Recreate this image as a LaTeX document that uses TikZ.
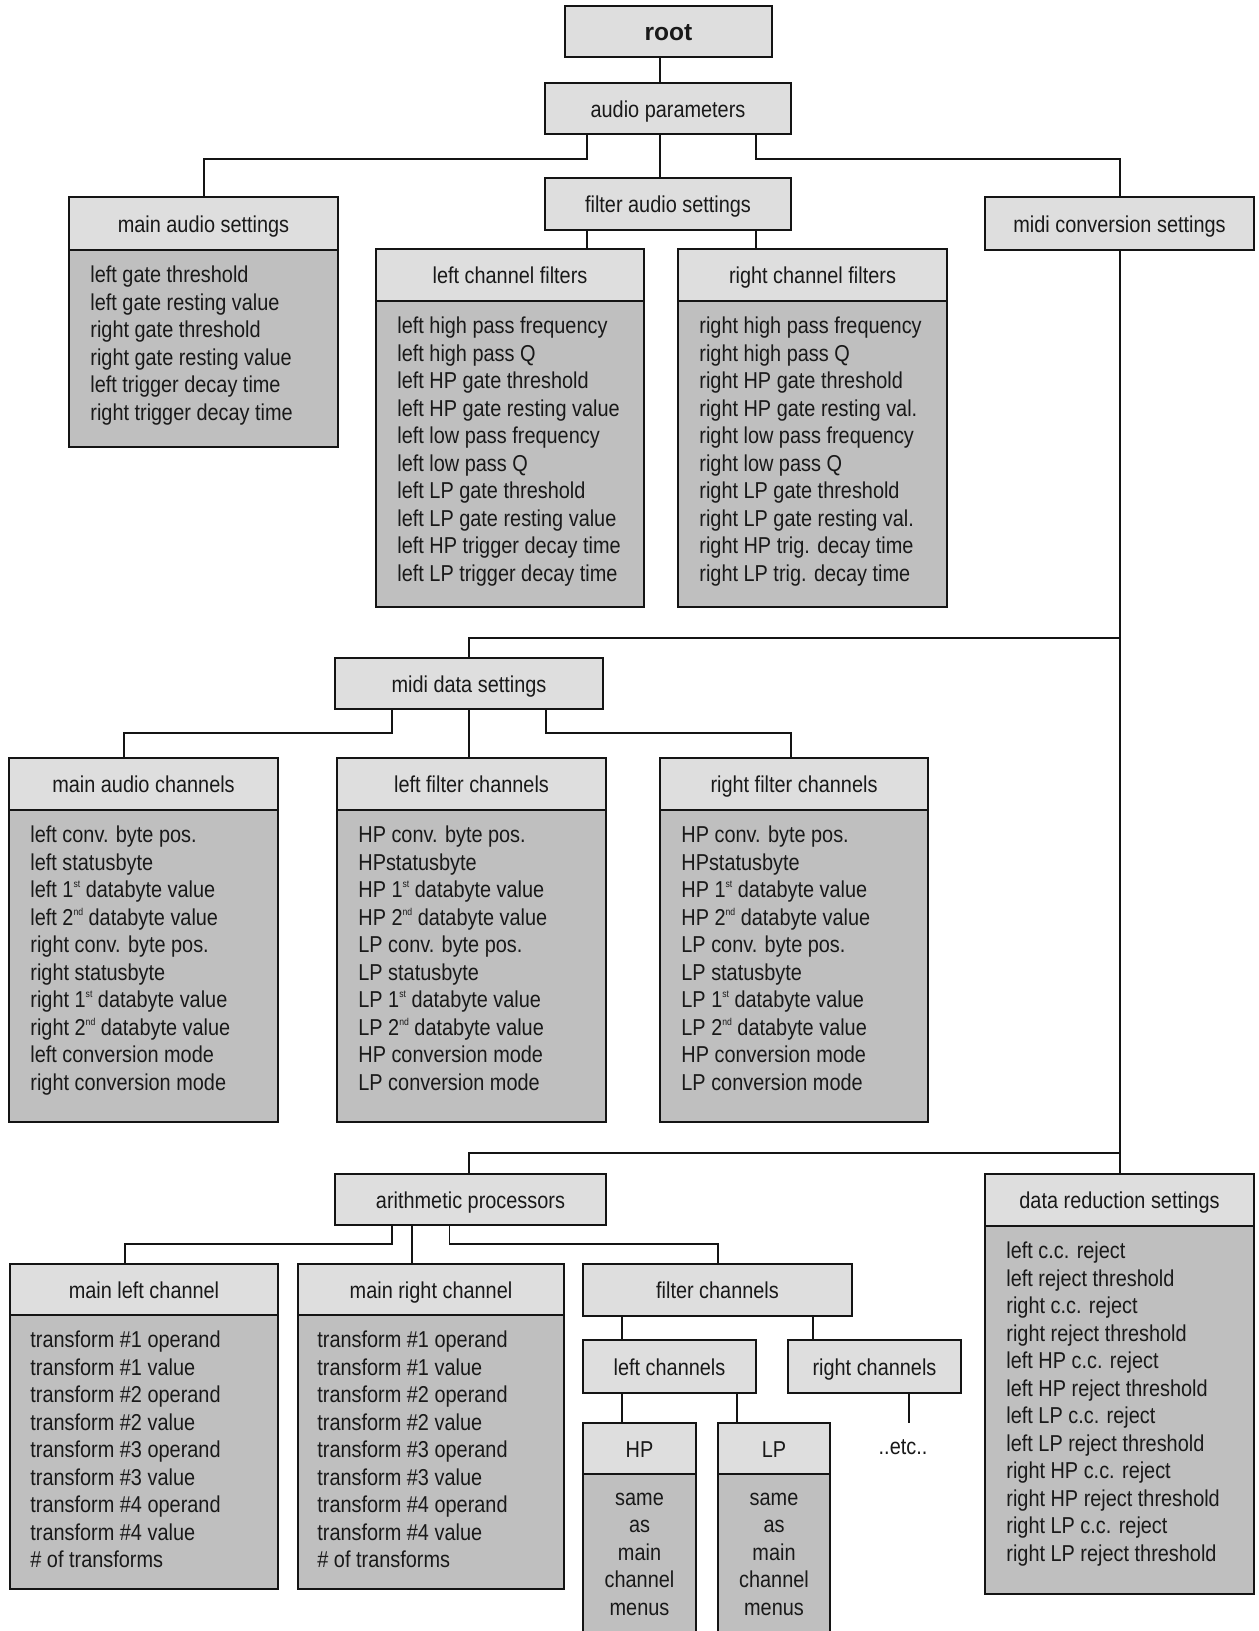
\documentclass[tikz,border=0pt]{standalone}
\usepackage{fontspec}
\setmainfont{Liberation Sans}[FakeStretch=0.865]
\newfontfamily\rootfont{Liberation Sans}
\definecolor{hdrfill}{gray}{0.87}
\definecolor{bodyfill}{gray}{0.75}
\definecolor{linec}{gray}{0.08}
\definecolor{txt}{gray}{0.1}
\newcommand\ord[1]{\raisebox{0.8ex}{\fontsize{5pt}{5pt}\selectfont #1}}
\newcommand\menufont{\fontsize{11.5pt}{13.75pt}\selectfont}
\begin{document}
\begin{tikzpicture}[x=0.5pt,y=-0.5pt,
  wh/.style 2 args={minimum width=#1*0.5pt, minimum height=#2*0.5pt},
  hdr/.style={draw=linec, fill=hdrfill, line width=1pt, inner sep=0pt, font=\menufont, text=txt,
    text height=9.2pt, text depth=0.4pt},
  bdy/.style={draw=linec, fill=bodyfill, line width=1pt, inner sep=0pt},
  lst/.style={anchor=base west, align=left, inner sep=0pt, font=\menufont, text=txt},
  cst/.style={anchor=base, align=center, inner sep=0pt, font=\menufont, text=txt},
  wire/.style={draw=linec, line width=0.85pt}]
\useasboundingbox (0,0) rectangle (1258,1631);
\clip (0,0) rectangle (1258,1631);

% connector columns and rails
\coordinate (x124) at (124,0);  \coordinate (x125) at (125,0);
\coordinate (x204) at (204,0);  \coordinate (x392) at (392,0);
\coordinate (x412) at (412,0);  \coordinate (x449) at (449.5,0);
\coordinate (x469) at (469,0);  \coordinate (x546) at (546,0);
\coordinate (x587) at (587,0);  \coordinate (x622) at (622,0);
\coordinate (x660) at (660,0);  \coordinate (x718) at (718,0);
\coordinate (x737) at (737,0);  \coordinate (x756) at (756,0);
\coordinate (x791) at (791,0);  \coordinate (x813) at (813,0);
\coordinate (x909) at (909,0);  \coordinate (x1120) at (1120,0);
\coordinate (y159) at (0,159);  \coordinate (y638) at (0,638);
\coordinate (y733) at (0,733);  \coordinate (y1153) at (0,1153);
\coordinate (y1244) at (0,1244);

% top levels
\node[hdr, wh={207}{51}] (root) at (668.5,31.5) {\rootfont\fontsize{12.25pt}{14pt}\selectfont\bfseries root};
\node[hdr, wh={246}{51}] (ap) at (668,108.5) {audio parameters};
\node[hdr, wh={246}{52}] (fas) at (668,204) {filter audio settings};
\node[hdr, wh={269}{53}] (mcs) at (1119.5,223.5) {midi conversion settings};

% main audio settings
\node[bdy, wh={269}{197}] (masb) at (203.5,348.5) {};
\node[hdr, wh={269}{53}] (mas) at (203.5,223.5) {main audio settings};
\node[lst] (masl) at (90,420) {left gate threshold\\left gate resting value\\right gate threshold\\right gate resting value\\left trigger decay time\\right trigger decay time};

% channel filters
\node[bdy, wh={268}{306}] (lcfb) at (510,454) {};
\node[hdr, wh={268}{52}] (lcf) at (510,275) {left channel filters};
\node[lst] (lcfl) at (397,581) {left high pass frequency\\left high pass Q\\left HP gate threshold\\left HP gate resting value\\left low pass frequency\\left low pass Q\\left LP gate threshold\\left LP gate resting value\\left HP trigger decay time\\left LP trigger decay time};

\node[bdy, wh={269}{306}] (rcfb) at (812.5,454) {};
\node[hdr, wh={269}{52}] (rcf) at (812.5,275) {right channel filters};
\node[lst] (rcfl) at (699,581) {right high pass frequency\\right high pass Q\\right HP gate threshold\\right HP gate resting val.\\right low pass frequency\\right low pass Q\\right LP gate threshold\\right LP gate resting val.\\right HP trig. decay time\\right LP trig. decay time};

% midi data settings
\node[hdr, wh={268}{51}] (mds) at (469,683.5) {midi data settings};

\node[bdy, wh={269}{312}] (macb) at (143.5,966) {};
\node[hdr, wh={269}{52}] (mac) at (143.5,784) {main audio channels};
\node[lst] (macl) at (30,1090) {left conv. byte pos.\\left statusbyte\\left 1\ord{st} databyte value\\left 2\ord{nd} databyte value\\right conv. byte pos.\\right statusbyte\\right 1\ord{st} databyte value\\right 2\ord{nd} databyte value\\left conversion mode\\right conversion mode};

\node[bdy, wh={269}{312}] (lfcb) at (471.5,966) {};
\node[hdr, wh={269}{52}] (lfc) at (471.5,784) {left filter channels};
\node[lst] (lfcl) at (358,1090) {HP conv. byte pos.\\HPstatusbyte\\HP 1\ord{st} databyte value\\HP 2\ord{nd} databyte value\\LP conv. byte pos.\\LP statusbyte\\LP 1\ord{st} databyte value\\LP 2\ord{nd} databyte value\\HP conversion mode\\LP conversion mode};

\node[bdy, wh={268}{312}] (rfcb) at (794,966) {};
\node[hdr, wh={268}{52}] (rfc) at (794,784) {right filter channels};
\node[lst] (rfcl) at (681,1090) {HP conv. byte pos.\\HPstatusbyte\\HP 1\ord{st} databyte value\\HP 2\ord{nd} databyte value\\LP conv. byte pos.\\LP statusbyte\\LP 1\ord{st} databyte value\\LP 2\ord{nd} databyte value\\HP conversion mode\\LP conversion mode};

% data reduction settings
\node[bdy, wh={269}{368}] (drsb) at (1119.5,1410) {};
\node[hdr, wh={269}{52}] (drs) at (1119.5,1200) {data reduction settings};
\node[lst] (drsl) at (1006,1561) {left c.c. reject\\left reject threshold\\right c.c. reject\\right reject threshold\\left HP c.c. reject\\left HP reject threshold\\left LP c.c. reject\\left LP reject threshold\\right HP c.c. reject\\right HP reject threshold\\right LP c.c. reject\\right LP reject threshold};

% arithmetic processors
\node[hdr, wh={271}{51}] (arp) at (470.5,1199.5) {arithmetic processors};

\node[bdy, wh={268}{274}] (mlcb) at (144,1452) {};
\node[hdr, wh={268}{51}] (mlc) at (144,1289.5) {main left channel};
\node[lst] (mlcl) at (30,1567.5) {transform \#1 operand\\transform \#1 value\\transform \#2 operand\\transform \#2 value\\transform \#3 operand\\transform \#3 value\\transform \#4 operand\\transform \#4 value\\\# of transforms};

\node[bdy, wh={266}{274}] (mrcb) at (431,1452) {};
\node[hdr, wh={266}{51}] (mrc) at (431,1289.5) {main right channel};
\node[lst] (mrcl) at (317,1567.5) {transform \#1 operand\\transform \#1 value\\transform \#2 operand\\transform \#2 value\\transform \#3 operand\\transform \#3 value\\transform \#4 operand\\transform \#4 value\\\# of transforms};

\node[hdr, wh={269}{52}] (fc) at (717.5,1290) {filter channels};
\node[hdr, wh={173}{53}] (lch) at (669.5,1366.5) {left channels};
\node[hdr, wh={173}{53}] (rch) at (874.5,1366.5) {right channels};

\node[bdy, wh={113}{176}] (hpb) at (639.5,1562) {};
\node[hdr, wh={113}{51}] (hp) at (639.5,1448.5) {HP};
\node[cst] (hpl) at (639.5,1615) {same\\as\\main\\channel\\menus};

\node[bdy, wh={112}{176}] (lpb) at (774,1562) {};
\node[hdr, wh={112}{51}] (lp) at (774,1448.5) {LP};
\node[cst] (lpl) at (774,1615) {same\\as\\main\\channel\\menus};

\node[inner sep=0pt, font=\menufont, text=txt] (etc) at (903,1447) {..etc..};
\coordinate (etcend) at (909,1423);

% connectors
\draw[wire] (root.south -| x660) -- (ap.north -| x660);
\draw[wire] (ap.south -| x587) -- (x587 |- y159) -| (mas.north -| x204);
\draw[wire] (ap.south -| x660) -- (fas.north -| x660);
\draw[wire] (ap.south -| x756) -- (x756 |- y159) -| (mcs.north -| x1120);
\draw[wire] (fas.south -| x587) -- (lcf.north -| x587);
\draw[wire] (fas.south -| x756) -- (rcf.north -| x756);
\draw[wire] (mcs.south -| x1120) -- (drs.north -| x1120);
\draw[wire] (x1120 |- y638) -| (mds.north -| x469);
\draw[wire] (x1120 |- y1153) -| (arp.north -| x469);
\draw[wire] (mds.south -| x392) -- (x392 |- y733) -| (mac.north -| x124);
\draw[wire] (mds.south -| x469) -- (lfc.north -| x469);
\draw[wire] (mds.south -| x546) -- (x546 |- y733) -| (rfc.north -| x791);
\draw[wire] (arp.south -| x392) -- (x392 |- y1244) -| (mlc.north -| x125);
\draw[wire] (arp.south -| x412) -- (mrc.north -| x412);
\draw[wire] (arp.south -| x449) -- (x449 |- y1244) -| (fc.north -| x718);
\draw[wire] (fc.south -| x622) -- (lch.north -| x622);
\draw[wire] (fc.south -| x813) -- (rch.north -| x813);
\draw[wire] (lch.south -| x622) -- (hp.north -| x622);
\draw[wire] (lch.south -| x737) -- (lp.north -| x737);
\draw[wire] (rch.south -| x909) -- (etcend);
\end{tikzpicture}
\end{document}
